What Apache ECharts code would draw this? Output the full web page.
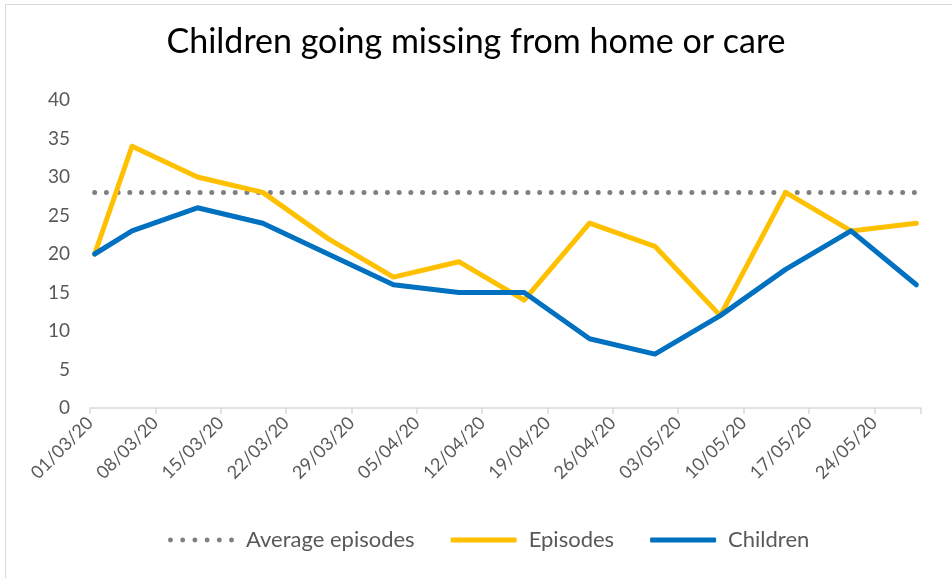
<!DOCTYPE html>
<html>
<head>
<meta charset="utf-8">
<script src="https://cdn.jsdelivr.net/npm/echarts@6/dist/echarts.min.js"></script>
<style>
html,body{margin:0;padding:0;background:#fff;}
#frame{position:absolute;left:5px;top:4px;width:960px;height:600px;border-left:1.5px solid #d9d9d9;border-top:1.5px solid #d9d9d9;box-sizing:border-box;}
#chart{position:absolute;left:0;top:0;width:952px;height:578px;}
</style>
</head>
<body>
<div id="frame"></div>
<div id="chart"></div>
<script>
// Data
var dates = ['2020-03-01','2020-03-05','2020-03-12','2020-03-19','2020-03-26','2020-04-02','2020-04-09','2020-04-16','2020-04-23','2020-04-30','2020-05-07','2020-05-14','2020-05-21','2020-05-28'];
var episodes = [20, 34, 30, 28, 22, 17, 19, 14, 24, 21, 12, 28, 23, 24];
var children = [20, 23, 26, 24, 20, 16, 15, 15, 9, 7, 12, 18, 23, 16];
var averageEpisodes = [28, 28, 28, 28, 28, 28, 28, 28, 28, 28, 28, 28, 28, 28];
var tickLabels = ['01/03/20','08/03/20','15/03/20','22/03/20','29/03/20','05/04/20','12/04/20','19/04/20','26/04/20','03/05/20','10/05/20','17/05/20','24/05/20'];

var start = Date.UTC(2020, 2, 1);
function dayOf(s){ var p = s.split('-'); return (Date.UTC(+p[0], +p[1]-1, +p[2]) - start) / 86400000 + 0.5; }
function pairs(vals){ return vals.map(function(v,i){ return [dayOf(dates[i]), v]; }); }

var dotsPath = 'path://';
for (var k = 0; k < 6; k++) {
  var cx = 2.5 + k * 12.3;
  dotsPath += 'M' + (cx - 2.5) + ',2.5a2.5,2.5 0 1,0 5,0a2.5,2.5 0 1,0 -5,0z';
}

var font = 'Lato, "Open Sans", sans-serif';
var chart = echarts.init(document.getElementById('chart'), null, {renderer:'canvas'});
chart.setOption({
  animation: false,
  title: {
    text: 'Children going missing from home or care',
    left: 'center', top: 20,
    textStyle: {fontFamily: font, fontSize: 34, fontWeight: 'normal', color: '#000'}
  },
  legend: {
    bottom: 22, left: 163,
    itemWidth: 66, itemHeight: 5, itemGap: 36,
    textStyle: {fontFamily: font, fontSize: 22, color: '#595959', padding: [0, 0, 0, 7]},
    data: [
      {name: 'Average episodes', icon: dotsPath, itemStyle: {color: '#808080'}},
      {name: 'Episodes', icon: 'roundRect', itemStyle: {color: '#FFC000'}},
      {name: 'Children', icon: 'roundRect', itemStyle: {color: '#0070C0'}}
    ]
  },
  grid: {left: 90, right: 31, top: 100, bottom: 170},
  xAxis: {
    type: 'value', min: 0, max: 89, interval: 7,
    axisLine: {lineStyle: {color: '#d9d9d9', width: 1.5}},
    axisTick: {show: true, length: 6, lineStyle: {color: '#d9d9d9', width: 1.5}},
    splitLine: {show: false},
    axisLabel: {
      rotate: 45, fontFamily: font, fontSize: 18, color: '#595959', margin: 12,
      formatter: function(v){ var i = Math.round(v/7); return (v % 7 === 0 && tickLabels[i]) ? tickLabels[i] : ''; }
    }
  },
  yAxis: {
    type: 'value', min: 0, max: 40, interval: 5,
    axisLine: {show: false}, axisTick: {show: false}, splitLine: {show: false},
    axisLabel: {fontFamily: font, fontSize: 19, color: '#595959', margin: 20}
  },
  series: [
    {name: 'Average episodes', type: 'line', data: pairs(averageEpisodes), showSymbol: false, symbol: 'none',
      lineStyle: {color: '#808080', width: 5, type: [0.01, 11.7], cap: 'round'}, itemStyle: {color: '#808080'}},
    {name: 'Episodes', type: 'line', data: pairs(episodes), showSymbol: false, symbol: 'none',
      lineStyle: {color: '#FFC000', width: 5, cap: 'round', join: 'round'}, itemStyle: {color: '#FFC000'}},
    {name: 'Children', type: 'line', data: pairs(children), showSymbol: false, symbol: 'none',
      lineStyle: {color: '#0070C0', width: 5, cap: 'round', join: 'round'}, itemStyle: {color: '#0070C0'}}
  ]
});
</script>
</body>
</html>
